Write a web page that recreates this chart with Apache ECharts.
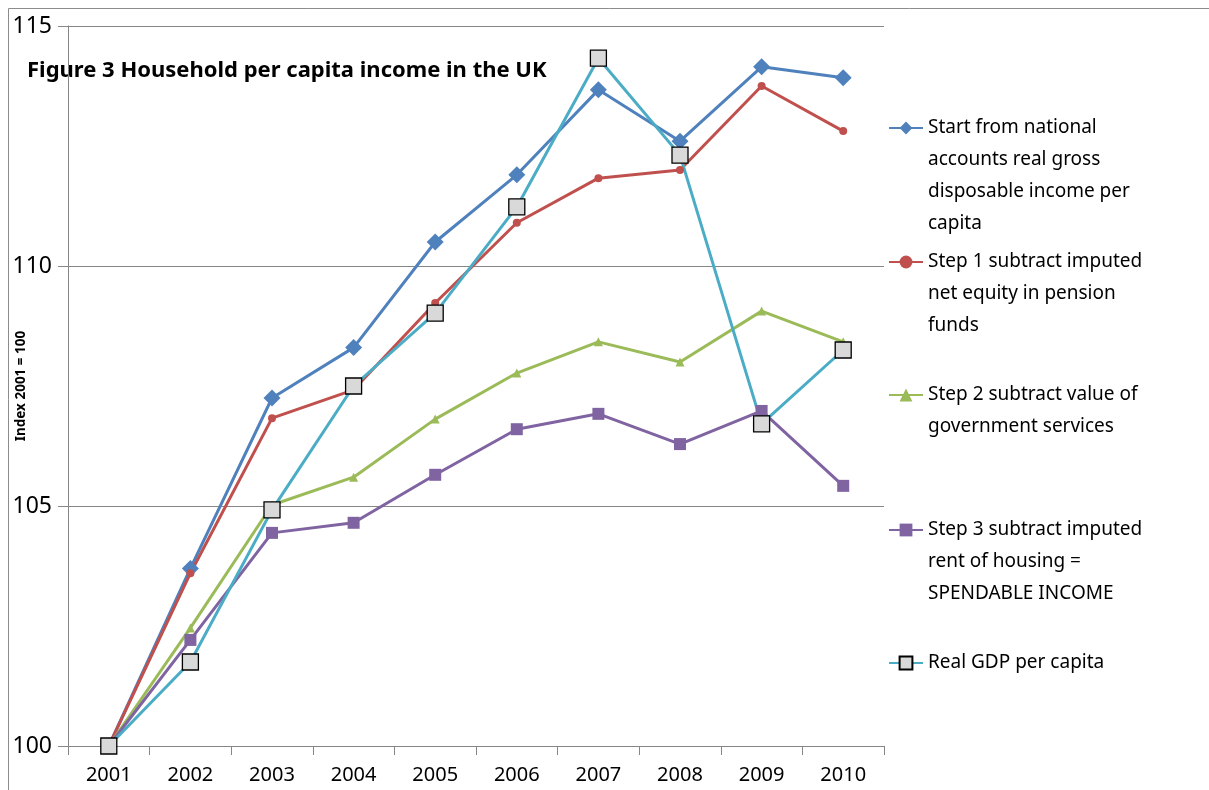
<!DOCTYPE html>
<html><head><meta charset="utf-8">
<script src="https://cdn.jsdelivr.net/npm/echarts@6/dist/echarts.min.js"></script>
<style>html,body{margin:0;padding:0;background:#fff}#c{width:1209px;height:790px}</style>
</head><body><div id="c"></div>
<script>
const years = ['2001','2002','2003','2004','2005','2006','2007','2008','2009','2010'];
const nationalAccounts = [100, 103.7, 107.25, 108.3, 110.5, 111.9, 113.67, 112.6, 114.15, 113.92];
const step1Pension = [100, 103.6, 106.83, 107.42, 109.23, 110.9, 111.83, 112.0, 113.75, 112.81];
const step2Gov = [100, 102.46, 105.02, 105.6, 106.81, 107.77, 108.42, 108.0, 109.06, 108.42];
const step3Housing = [100, 102.21, 104.44, 104.65, 105.65, 106.6, 106.92, 106.29, 106.98, 105.42];
const realGDP = [100, 101.75, 104.92, 107.5, 109.02, 111.23, 114.33, 112.31, 106.71, 108.25];
const seriesNames = [
  'Start from national accounts real gross disposable income per capita',
  'Step 1 subtract imputed net equity in pension funds',
  'Step 2 subtract value of government services',
  'Step 3 subtract imputed rent of housing = SPENDABLE INCOME',
  'Real GDP per capita'
];
const legendLabels = [
  'Start from national\naccounts real gross\ndisposable income per\ncapita',
  'Step 1 subtract imputed\nnet equity in pension\nfunds',
  'Step 2 subtract value of\ngovernment services',
  'Step 3 subtract imputed\nrent of housing =\nSPENDABLE INCOME',
  'Real GDP per capita'
];
const FONT = 'Noto Sans';
const LH = 32;
const iconCenters = [128, 262, 395, 530, 663];
const chart = echarts.init(document.getElementById('c'));
const legends = seriesNames.map((nm, i) => {
  const n = legendLabels[i].split('\n').length;
  // prefix blank lines so the first text line lines up with the (centred) icon
  const txt = ' \n'.repeat(n - 1) + legendLabels[i];
  return {
    data: [nm], orient: 'vertical', left: 888,
    top: iconCenters[i] - (2 * n - 1) * LH / 2,
    itemWidth: 34, itemHeight: 16, itemGap: 0, padding: 0,
    formatter: () => txt,
    textStyle: { fontFamily: FONT, fontSize: 19, color: '#000', lineHeight: LH }
  };
});
const mk = (name, data, color, symbol, size, extra) => Object.assign({
  name, type: 'line', data, symbol, symbolSize: size,
  lineStyle: { color, width: 3 },
  itemStyle: { color },
  emphasis: { disabled: true }
}, extra || {});
chart.setOption({
  animation: false,
  textStyle: { fontFamily: FONT },
  graphic: [{ type: 'rect', shape: { x: 8.5, y: 8.5, width: 1220, height: 800 }, style: { fill: 'none', stroke: '#8c8c8c', lineWidth: 1 }, silent: true },
    { type: 'text', left: 27, top: 60, style: { text: 'Figure 3 Household per capita income in the UK', font: 'bold 22px "Noto Sans"', fill: '#000' } }],
  legend: legends,
  grid: { left: 68, right: 325, top: 26, bottom: 44, containLabel: false, outerBoundsMode: 'none' },
  xAxis: {
    type: 'category', data: years, boundaryGap: true,
    axisLine: { lineStyle: { color: '#868686', width: 1 } },
    axisTick: { show: true, length: 9, lineStyle: { color: '#868686' } },
    axisLabel: { color: '#000', fontSize: 20, margin: 19, fontFamily: FONT }
  },
  yAxis: {
    type: 'value', min: 100, max: 115, interval: 5,
    name: 'Index 2001 = 100', nameLocation: 'middle', nameGap: 40, nameRotate: 90, nameMoveOverlap: false,
    nameTextStyle: { fontFamily: FONT, fontSize: 13.5, fontWeight: 'bold', color: '#000' },
    axisLine: { show: true, lineStyle: { color: '#868686', width: 1 } },
    axisTick: { show: true, length: 10, lineStyle: { color: '#868686' } },
    splitLine: { lineStyle: { color: '#868686', width: 1 } },
    axisLabel: { color: '#000', fontSize: 23, margin: 16, fontFamily: FONT }
  },
  series: [
    mk(seriesNames[0], nationalAccounts, '#4f81bd', 'diamond', 17),
    mk(seriesNames[1], step1Pension, '#c0504d', 'circle', 8),
    mk(seriesNames[2], step2Gov, '#9bbb59', 'triangle', 9),
    mk(seriesNames[3], step3Housing, '#8064a2', 'rect', 12),
    mk(seriesNames[4], realGDP, '#4bacc6', 'rect', 16, { itemStyle: { color: '#d9d9d9', borderColor: '#000', borderWidth: 1.3 } })
  ]
});
</script></body></html>
